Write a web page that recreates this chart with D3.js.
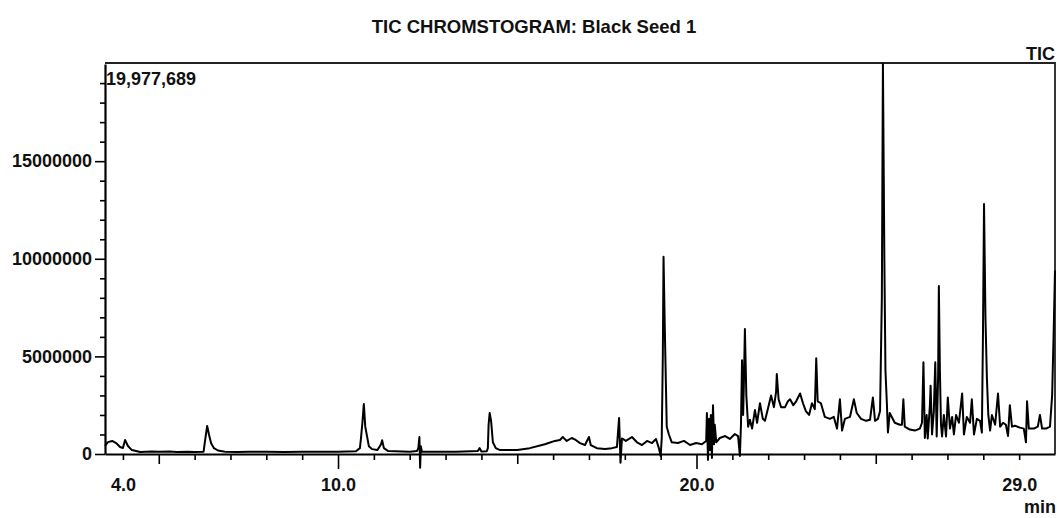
<!DOCTYPE html>
<html>
<head>
<meta charset="utf-8">
<script src="https://cdn.jsdelivr.net/npm/d3@7"></script>
<style>
  html, body { margin: 0; padding: 0; background: #fff; }
  svg { display: block; }
</style>
</head>
<body>
<svg id="chart" width="1057" height="518"></svg>
<script>
// ---------------- data ----------------
const chartTitle = "TIC CHROMSTOGRAM: Black Seed 1";
const traceName = "TIC";
const maxIntensity = 19977689;           // full-scale value printed in the corner
const timeRange = [3.5, 30.0];           // minutes
const xTickLabels = [4.0, 10.0, 20.0, 29.0];
const yTickLabels = [0, 5000000, 10000000, 15000000];
const UNIT = 1e6;                        // intensities below are in millions of counts

// [retention time (min), intensity (millions)]
const ticEarly = [
  [3.50,0.41],[3.58,0.61],[3.70,0.67],[3.81,0.56],[3.92,0.36],[4.00,0.31],[4.06,0.72],[4.14,0.41],
  [4.25,0.20],[4.48,0.10],[4.80,0.13],[5.00,0.11],[5.30,0.13],[5.50,0.10],[5.80,0.12],[6.00,0.10],
  [6.25,0.12],[6.30,0.80],[6.35,1.44],[6.40,1.00],[6.46,0.55],[6.54,0.30],[6.65,0.18],[6.85,0.12],
  [7.20,0.10],[7.50,0.12],[8.00,0.11],[8.50,0.10],[9.00,0.12],[9.50,0.11],[10.00,0.12],[10.50,0.14],
  [10.61,0.30],[10.64,0.80],[10.68,1.60],[10.72,2.56],[10.76,1.40],[10.81,0.90],[10.86,0.40],[10.95,0.25],
  [11.10,0.20],[11.20,0.50],[11.23,0.70],[11.28,0.30],[11.40,0.15],[12.00,0.12],[12.20,0.15],[12.24,0.30],
  [12.27,0.87],[12.29,-0.70],[12.31,0.40],[12.34,0.12],[12.80,0.12],[13.30,0.12],[13.90,0.15],[13.95,0.30],
  [14.00,0.13],[14.15,0.14]
];
const ticMid = [
  [14.18,0.30],[14.20,1.50],[14.23,2.10],[14.27,1.70],[14.32,0.60],[14.40,0.30],[14.52,0.20],[15.00,0.20],
  [15.35,0.30],[15.77,0.50],[16.05,0.67],[16.19,0.72],[16.27,0.87],[16.38,0.67],[16.52,0.82],[16.63,0.72],
  [16.75,0.56],[16.89,0.46],[17.00,0.87],[17.05,0.46],[17.22,0.30],[17.45,0.26],[17.64,0.30],[17.78,0.36],
  [17.84,1.85],[17.88,-0.45],[17.92,0.80],[18.03,0.67],[18.20,0.87],[18.34,0.60],[18.48,0.46],[18.62,0.67],
  [18.76,0.56],[18.87,0.77],[18.95,0.30],[19.00,-0.10],[19.03,0.80],[19.06,5.00],[19.08,10.10],[19.12,6.00],
  [19.17,1.40],[19.23,1.00],[19.31,0.60],[19.48,0.56],[19.65,0.67],[19.82,0.46],[19.99,0.56],[20.15,0.50],
  [20.27,0.67],[20.29,2.10],[20.32,-0.30],[20.35,1.80],[20.38,0.20],[20.40,2.00],[20.43,-0.20],[20.46,2.50],
  [20.49,0.50],[20.51,1.50],[20.55,0.60],[20.65,0.82],[20.80,0.92],[20.93,0.77],[21.07,1.02],[21.16,0.92],
  [21.21,-0.10],[21.24,1.50],[21.27,4.80],[21.30,2.00],[21.32,3.50],[21.35,6.40],[21.39,3.00],[21.44,1.40],
  [21.49,1.75],[21.55,1.30],[21.63,2.25],[21.69,1.60],[21.77,2.60],[21.85,1.80],[21.91,1.70],[21.99,2.30],
  [22.08,3.00],[22.16,2.40],[22.22,3.20],[22.24,4.10],[22.29,2.80],[22.36,2.40],[22.47,2.40],[22.55,2.70],
  [22.61,2.80],[22.70,2.50],[22.78,2.70],[22.89,3.10],[22.97,2.60],[23.05,2.20],[23.14,2.00],[23.22,2.60],
  [23.30,2.30],[23.34,4.90],[23.38,2.70],[23.47,2.60],[23.58,1.90],[23.72,1.80],[23.83,1.90]
];
const ticLate = [
  [23.92,1.30],[24.00,2.80],[24.06,1.20],[24.14,1.80],[24.28,1.90],[24.39,2.80],[24.47,2.10],[24.59,1.80],
  [24.73,1.70],[24.84,1.75],[24.92,2.90],[24.98,1.70],[25.06,1.80],[25.12,2.20],[25.17,8.00],[25.20,19.98],
  [25.24,10.00],[25.27,4.30],[25.31,2.60],[25.34,1.10],[25.39,2.10],[25.53,1.60],[25.67,1.50],[25.73,1.50],
  [25.77,2.80],[25.81,1.40],[25.95,1.25],[26.09,1.20],[26.23,1.30],[26.29,1.60],[26.33,4.70],[26.37,0.82],
  [26.42,2.00],[26.45,0.80],[26.51,2.50],[26.53,3.50],[26.57,1.00],[26.62,2.20],[26.66,4.70],[26.70,0.90],
  [26.74,4.00],[26.76,8.60],[26.79,4.20],[26.82,1.50],[26.85,0.90],[26.90,2.00],[26.96,0.90],[27.01,2.90],
  [27.07,1.30],[27.13,1.90],[27.18,1.00],[27.24,2.00],[27.32,1.60],[27.41,3.10],[27.46,1.00],[27.54,1.90],
  [27.63,1.60],[27.68,2.80],[27.74,1.00],[27.82,1.80],[27.91,1.70],[27.96,1.10],[27.99,6.00],[28.02,12.80],
  [28.06,7.00],[28.10,3.90],[28.14,2.00],[28.19,1.20],[28.24,2.00],[28.33,1.50],[28.41,3.10],[28.47,1.40],
  [28.55,1.60],[28.63,1.50],[28.69,0.92],[28.74,2.50],[28.80,1.40],[28.88,1.45],[29.02,1.35],[29.13,1.30],
  [29.19,0.60],[29.22,2.70],[29.27,1.30],[29.41,1.30],[29.52,1.40],[29.58,2.00],[29.64,1.30],[29.75,1.30],
  [29.86,1.40],[29.92,3.00],[29.96,6.00],[30.00,9.40]
];

// ---------------- drawing ----------------
const FONT = "'Liberation Sans', Arial, Helvetica, sans-serif";
const svg = d3.select("#chart");

const x = d3.scaleLinear().domain(timeRange).range([105, 1055]);
const y = d3.scaleLinear().domain([0, maxIntensity]).range([454, 64]);

// frame (top + right)
svg.append("path")
  .attr("d", `M${x(timeRange[0])},${y(maxIntensity) - 1}H${x(timeRange[1])}V${y(0)}`)
  .attr("fill", "none").attr("stroke", "#222").attr("stroke-width", 1.8);

// chromatogram
const trace = ticEarly.concat(ticMid, ticLate);
const line = d3.line().x(d => x(d[0])).y(d => y(d[1] * UNIT));
svg.append("path")
  .datum(trace)
  .attr("d", line)
  .attr("fill", "none")
  .attr("stroke", "#000")
  .attr("stroke-width", 2)
  .attr("stroke-linejoin", "round");

// x axis
const xTicks = d3.range(4, 30, 1);
const fmtX = d3.format(".1f");
const gx = svg.append("g").attr("transform", `translate(0,${y(0)})`)
  .call(d3.axisBottom(x).tickValues(xTicks).tickSizeInner(15).tickSizeOuter(0).tickPadding(9)
    .tickFormat(d => xTickLabels.includes(d) ? fmtX(d) : ""));
gx.selectAll(".tick line")
  .attr("y2", d => d % 10 === 0 ? 15 : (d % 5 === 0 ? 10 : 6))
  .attr("stroke-width", 1.6);
gx.select(".domain").attr("stroke-width", 2.2);

// y axis
const yTicks = d3.range(0, 20000000, 1000000);
const fmtY = d3.format("d");
const gy = svg.append("g").attr("transform", `translate(${x(timeRange[0])},0)`)
  .call(d3.axisLeft(y).tickValues(yTicks).tickSizeInner(10).tickSizeOuter(0).tickPadding(3)
    .tickFormat(d => yTickLabels.includes(d) ? fmtY(d) : ""));
gy.selectAll(".tick line")
  .attr("x2", d => yTickLabels.includes(d) ? -10 : -5)
  .attr("stroke-width", 1.6);
gy.select(".domain").attr("stroke-width", 2.2);

[gx, gy].forEach(g => g.selectAll("text")
  .attr("font-family", FONT).attr("font-size", 18).attr("font-weight", "bold").attr("fill", "#111"));

// texts
svg.append("text").attr("x", 534).attr("y", 33).attr("text-anchor", "middle")
  .attr("font-family", FONT).attr("font-size", 18.5).attr("font-weight", "bold").attr("fill", "#111")
  .text(chartTitle);
svg.append("text").attr("x", 1055).attr("y", 60).attr("text-anchor", "end")
  .attr("font-family", FONT).attr("font-size", 18).attr("font-weight", "bold").attr("fill", "#111")
  .text(traceName);
svg.append("text").attr("x", x(timeRange[0]) + 1).attr("y", 85)
  .attr("font-family", FONT).attr("font-size", 18).attr("font-weight", "bold").attr("fill", "#111")
  .text(d3.format(",")(maxIntensity));
svg.append("text").attr("x", 1056).attr("y", 513).attr("text-anchor", "end")
  .attr("font-family", FONT).attr("font-size", 18).attr("font-weight", "bold").attr("fill", "#111")
  .text("min");
</script>
</body>
</html>
